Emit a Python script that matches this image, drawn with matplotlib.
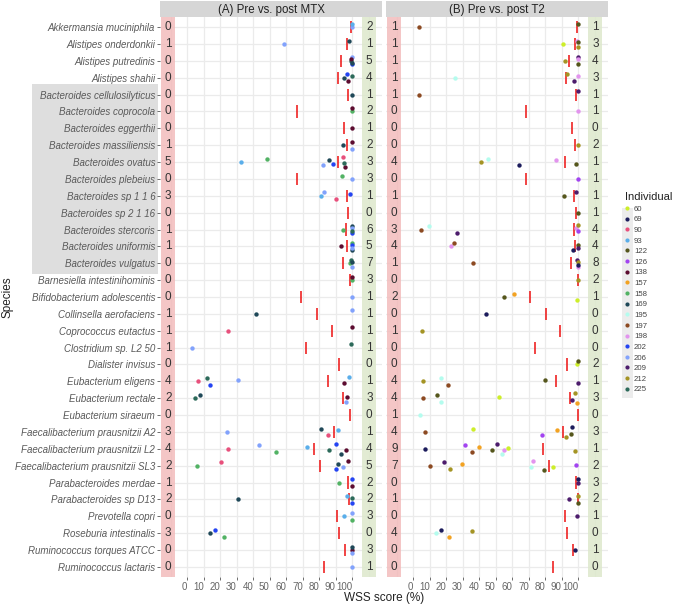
import matplotlib
matplotlib.use("Agg")
import matplotlib.pyplot as plt
from matplotlib.patches import Rectangle
from matplotlib.lines import Line2D
import matplotlib.transforms as mtransforms

plt.rcParams["font.family"] = ["Liberation Sans", "DejaVu Sans"]

species = ["Akkermansia muciniphila", "Alistipes onderdonkii", "Alistipes putredinis",
           "Alistipes shahii", "Bacteroides cellulosilyticus", "Bacteroides coprocola",
           "Bacteroides eggerthii", "Bacteroides massiliensis", "Bacteroides ovatus",
           "Bacteroides plebeius", "Bacteroides sp 1 1 6", "Bacteroides sp 2 1 16",
           "Bacteroides stercoris", "Bacteroides uniformis", "Bacteroides vulgatus",
           "Barnesiella intestinihominis", "Bifidobacterium adolescentis",
           "Collinsella aerofaciens", "Coprococcus eutactus", "Clostridium sp. L2 50",
           "Dialister invisus", "Eubacterium eligens", "Eubacterium rectale",
           "Eubacterium siraeum", "Faecalibacterium prausnitzii A2",
           "Faecalibacterium prausnitzii L2", "Faecalibacterium prausnitzii SL3",
           "Parabacteroides merdae", "Parabacteroides sp D13", "Prevotella copri",
           "Roseburia intestinalis", "Ruminococcus torques ATCC", "Ruminococcus lactaris"]

individuals = ["60", "69", "90", "93", "122", "126", "138", "157", "158", "169",
               "195", "197", "198", "202", "206", "209", "212", "225"]
ind_colors = ["#cdee2a", "#1c1c5c", "#e8507c", "#5aaeea", "#55561c", "#a244f0",
              "#5c0c30", "#f2a222", "#52b264", "#1f4858", "#b4fcee", "#8c4a22",
              "#e294ee", "#2444f2", "#82a2fc", "#4c1c6c", "#a49424", "#2c6a5a"]

# panel A : pre vs post MTX
a_thresh = [99.2, 96.8, 93.2, 91.2, 97.4, 66.5, 95.2, 96.8, 91.1, 66.5, 96.8, 97.4,
            96.2, 97.0, 94.2, 98.6, 68.7, 78.5, 87.5, 72.1, 91.8, 85.1, 94.2, 98.6,
            89.2, 77.1, 80.7, 97.2, 98.2, 90.5, 91.8, 95.6, 83.1]
a_low = [0, 1, 0, 0, 0, 0, 0, 1, 5, 0, 3, 0, 1, 1, 0, 0, 0, 1, 1, 1, 0, 4, 2, 0,
         3, 4, 2, 1, 2, 0, 3, 0, 0]
a_high = [2, 1, 5, 4, 1, 2, 1, 2, 3, 3, 1, 0, 6, 5, 7, 3, 1, 1, 1, 1, 0, 1, 3, 0,
          1, 4, 5, 2, 2, 3, 0, 3, 1]
# (row, individual, WSS score)
a_points = [
    (1, "206", 100), (1, "93", 100),
    (2, "206", 58.4), (2, "169", 98),
    (3, "225", 99.5), (3, "206", 100), (3, "202", 99.8), (3, "138", 99.3), (3, "169", 100),
    (4, "169", 95.2), (4, "202", 97), (4, "138", 97.6), (4, "225", 100),
    (5, "169", 100),
    (6, "158", 100), (6, "138", 100),
    (7, "138", 100),
    (8, "169", 94.2), (8, "138", 100), (8, "206", 100),
    (9, "93", 32.5), (9, "158", 48.6), (9, "206", 82.1), (9, "169", 86.1), (9, "202", 88.1),
    (9, "90", 94.3), (9, "138", 95.8), (9, "225", 95),
    (10, "206", 100), (10, "158", 94),
    (11, "93", 81.2), (11, "206", 82.6), (11, "90", 90.2), (11, "202", 98.8),
    (13, "158", 94.2), (13, "169", 100), (13, "202", 100), (13, "206", 100), (13, "225", 100),
    (14, "138", 93.2), (14, "158", 100), (14, "169", 100), (14, "202", 99.6), (14, "206", 100),
    (15, "158", 98.5), (15, "225", 99.5), (15, "206", 100), (15, "169", 100),
    (16, "158", 100), (16, "138", 100),
    (17, "206", 100),
    (18, "169", 41.4), (18, "206", 100),
    (19, "90", 24.9), (19, "138", 100),
    (20, "206", 2.8), (20, "225", 99),
    (22, "90", 6.8), (22, "225", 11.8), (22, "202", 13.8), (22, "206", 30.5),
    (22, "138", 95.2), (22, "93", 98.2),
    (23, "225", 4.8), (23, "169", 7.8), (23, "206", 96.2), (23, "138", 96.8),
    (25, "206", 23.9), (25, "169", 81.1), (25, "90", 85.1), (25, "93", 91.2),
    (26, "90", 24.9), (26, "206", 43.6), (26, "158", 53.6), (26, "93", 72.5),
    (26, "225", 86.1), (26, "202", 90.2), (26, "169", 93.2), (26, "138", 96.2),
    (27, "158", 5.8), (27, "90", 20.5), (27, "202", 90.2), (27, "169", 91.2),
    (27, "206", 94.2), (27, "138", 97.2),
    (28, "158", 92.2), (28, "202", 100), (28, "138", 100),
    (29, "169", 30.5), (29, "93", 97), (29, "202", 100), (29, "225", 100),
    (30, "93", 95.2), (30, "206", 100), (30, "158", 100),
    (31, "169", 13.8), (31, "202", 16.9), (31, "158", 22.5),
    (32, "138", 100), (32, "169", 100), (32, "206", 100),
    (33, "206", 100),
]

# panel B : pre vs post T2
b_thresh = [99.5, 97.8, 94.5, 92.5, 98.6, 68.3, 96.4, 98.0, 92.1, 68.3, 97.6, 98.6,
            97.2, 98.0, 95.6, 99.6, 70.7, 80.4, 89.0, 73.5, 93.1, 86.5, 95.2, 100,
            90.5, 78.4, 82.4, 98.6, 99.6, 91.9, 92.9, 97.0, 84.4]
b_low = [1, 1, 1, 1, 1, 0, 0, 0, 4, 0, 1, 0, 3, 4, 1, 0, 2, 0, 1, 0, 0, 4, 4, 1,
         4, 9, 7, 0, 1, 0, 4, 0, 0]
b_high = [1, 3, 4, 3, 1, 1, 0, 2, 1, 1, 1, 1, 4, 4, 8, 2, 1, 0, 0, 0, 2, 1, 3, 0,
          3, 1, 2, 3, 2, 1, 0, 1, 0]
b_points = [
    (1, "197", 3.2), (1, "122", 100),
    (2, "60", 90.5), (2, "198", 99), (2, "212", 100), (2, "122", 100),
    (3, "212", 91.7), (3, "209", 100), (3, "122", 100), (3, "198", 100),
    (4, "195", 25.5), (4, "212", 93.3), (4, "209", 97.2), (4, "198", 100),
    (5, "197", 3.2), (5, "209", 100),
    (6, "198", 100),
    (8, "212", 100),
    (9, "212", 41), (9, "195", 45), (9, "69", 64.2), (9, "198", 86.5), (9, "122", 98.6),
    (10, "126", 100),
    (11, "122", 91.5), (11, "209", 98.8),
    (12, "122", 100),
    (13, "197", 5), (13, "195", 9.3), (13, "209", 26.5), (13, "198", 98.8),
    (13, "126", 100), (13, "212", 100),
    (14, "198", 22.8), (14, "197", 24.4), (14, "69", 96.6), (14, "122", 100), (14, "209", 100),
    (15, "197", 36.4), (15, "209", 99.4), (15, "198", 99.6), (15, "212", 100), (15, "69", 100),
    (16, "212", 100),
    (17, "122", 55.2), (17, "157", 60.8), (17, "60", 99),
    (18, "69", 44),
    (19, "212", 5.2),
    (21, "60", 99), (21, "122", 100),
    (22, "212", 6), (22, "195", 16.8), (22, "197", 20.8), (22, "122", 79.8), (22, "209", 100),
    (23, "197", 6), (23, "122", 14.7), (23, "195", 16.8), (23, "60", 51.7),
    (23, "209", 96.2), (23, "212", 98), (23, "157", 99),
    (24, "195", 4.2),
    (25, "197", 7.1), (25, "60", 36.4), (25, "126", 78), (25, "157", 86.9),
    (25, "122", 95.3), (25, "69", 96.2), (25, "212", 92.3),
    (26, "69", 7.1), (26, "126", 31.3), (26, "197", 35.4), (26, "157", 40), (26, "122", 47.7),
    (26, "209", 50.7), (26, "195", 53.7), (26, "198", 54.7), (26, "60", 57.6), (26, "212", 98),
    (27, "197", 10.3), (27, "209", 18.8), (27, "212", 22.4), (27, "157", 29.5),
    (27, "195", 71.3), (27, "198", 72.3), (27, "122", 79), (27, "60", 84.8), (27, "126", 98.6),
    (28, "209", 100), (28, "69", 100),
    (29, "209", 94.5), (29, "212", 100), (29, "122", 100),
    (30, "209", 99),
    (31, "195", 13.7), (31, "69", 16.8), (31, "157", 21.8), (31, "212", 35.4),
    (32, "69", 98),
]

W, H = 674, 604
fig = plt.figure(figsize=(W / 100, H / 100), dpi=100)
color_of = dict(zip(individuals, ind_colors))
rows = list(range(1, len(species) + 1))
jit = [0.0, -0.2, 0.2, -0.1, 0.1, -0.28, 0.28, 0.05, -0.05, 0.15]


def px_axes(x0, x1, y0, y1):
    return fig.add_axes([x0 / W, 1 - y1 / H, (x1 - x0) / W, (y1 - y0) / H])


def draw_panel(ax, thresh, low, high, pts, show_y):
    ax.set_xlim(-16.5, 118)
    ax.set_ylim(len(species) + 0.6, 0.4)
    for g in range(-10, 111, 10):
        ax.axvline(g, color="#ebebeb", lw=0.9, zorder=0)
    for r in rows:
        ax.axhline(r, color="#ebebeb", lw=0.9, zorder=0)
    ax.axvspan(-15.8, -7.3, color="#f2b8b8", alpha=0.8, lw=0, zorder=1)
    ax.axvspan(106, 114.5, color="#dde8cc", alpha=0.85, lw=0, zorder=1)
    for r, lo, hi in zip(rows, low, high):
        ax.text(-11.5, r, str(lo), ha="center", va="center", fontsize=8.5, color="#333333", zorder=3)
        ax.text(110.3, r, str(hi), ha="center", va="center", fontsize=8.5, color="#333333", zorder=3)
    ax.vlines(thresh, [r - 0.36 for r in rows], [r + 0.36 for r in rows],
              color="#ee1a1a", lw=1.15, zorder=2)
    seen = {}
    for r, ind, v in pts:
        k = seen.get(r, 0)
        seen[r] = k + 1
        ax.scatter(v, r + jit[k % len(jit)], s=10, color=color_of[ind], lw=0, zorder=4)
    ax.set_xticks(range(0, 101, 10))
    ax.set_xticklabels([str(t) for t in range(0, 101, 10)], ha="right")
    ax.tick_params(axis="x", length=2.5, width=0.6, color="#555555", labelsize=7,
                   labelcolor="#666666", pad=0.8)
    ax.set_yticks(rows)
    if show_y:
        ax.set_yticklabels(species, fontstyle="italic")
        ax.tick_params(axis="y", length=2.5, width=0.6, color="#555555", labelsize=7.0,
                       labelcolor="#5a5a5a", pad=1.0)
    else:
        ax.tick_params(axis="y", length=0, labelleft=False)
    for s in ax.spines.values():
        s.set_visible(False)
    ax.set_facecolor("white")


axA = px_axes(160, 382, 17, 577)
axB = px_axes(386, 608, 17, 577)
draw_panel(axA, a_thresh, a_low, a_high, a_points, True)
draw_panel(axB, b_thresh, b_low, b_high, b_points, False)

# strip headers
for (x0, x1), title in [((160, 382), "(A) Pre vs. post MTX"), ((386, 608), "(B) Pre vs. post T2")]:
    sx = px_axes(x0, x1, 1, 17)
    sx.set_facecolor("#d6d6d6")
    sx.set_xticks([])
    sx.set_yticks([])
    for s in sx.spines.values():
        s.set_visible(False)
    sx.text(0.5, 0.45, title, ha="center", va="center", fontsize=8.3, color="#222222",
            transform=sx.transAxes)

# grey box behind Bacteroides labels
tr = mtransforms.blended_transform_factory(axA.transAxes, axA.transData)
axA.add_patch(Rectangle(((32 - 160) / 222, 4.38), (158 - 32) / 222, 11.24, transform=tr,
                        color="#dedede", lw=0, clip_on=False, zorder=-1))

fig.text(384 / W, 1 - 597.5 / H, "WSS score (%)", ha="center", va="center", fontsize=8.5,
         color="#222222")
fig.text(8 / W, 1 - 297 / H, "Species", ha="center", va="center", rotation=90,
         fontsize=8.5, color="#222222")

# legend
fig.patches.append(Rectangle((622 / W, 1 - 398 / H), 11 / W, 190 / H,
                             transform=fig.transFigure, color="#ececec", lw=0))
handles = [Line2D([], [], marker="o", ls="", ms=3.0, mec="none", mfc=c) for c in ind_colors]
leg = fig.legend(handles, individuals, loc="upper left",
                 bbox_to_anchor=(625 / W, 1 - 192 / H), frameon=False, title="Individual",
                 fontsize=5.6, title_fontsize=8.0, handlelength=0.6, handletextpad=0.55,
                 labelspacing=0.41, borderpad=0, borderaxespad=0)
leg._legend_box.align = "left"
leg._legend_box._children[0].sep = 7
for t in leg.get_texts():
    t.set_color("#444444")
leg.get_title().set_color("#222222")

fig.savefig("out.png", dpi=100)
